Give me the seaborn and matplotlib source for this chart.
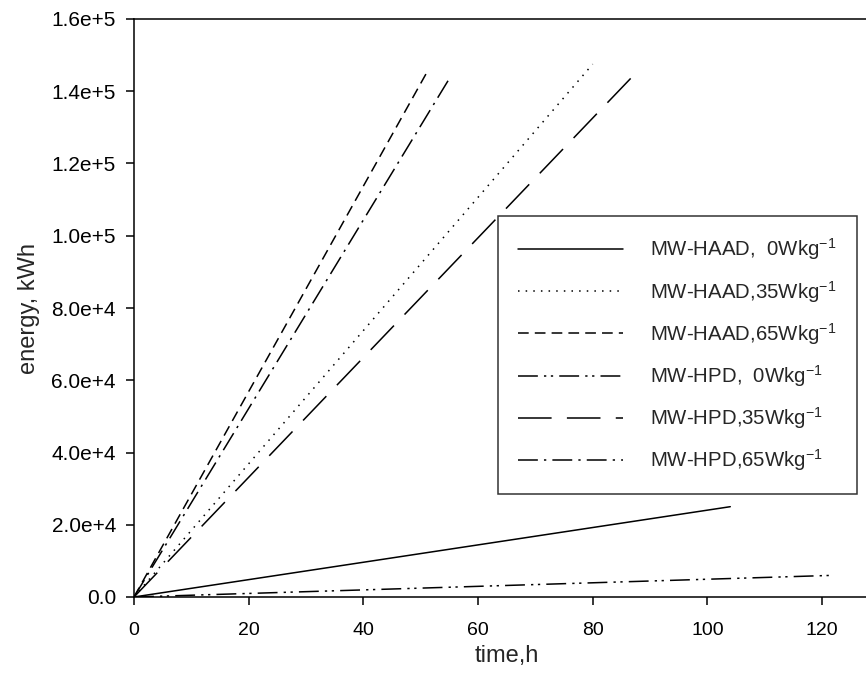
import matplotlib
matplotlib.use("Agg")
import matplotlib.pyplot as plt
import seaborn as sns
import pandas as pd

# ---- data ----
labels = ["MW-HAAD,  0Wkg$^{-1}$", "MW-HAAD,35Wkg$^{-1}$", "MW-HAAD,65Wkg$^{-1}$",
          "MW-HPD,  0Wkg$^{-1}$", "MW-HPD,35Wkg$^{-1}$", "MW-HPD,65Wkg$^{-1}$"]
x_start = [0, 0, 0, 0, 0, 0]
y_start = [0, 0, 0, 0, 0, 0]
x_end = [104, 80, 51, 122, 87.5, 55]
y_end = [25000, 147500, 145000, 6000, 145000, 143500]
yticks = [0, 20000, 40000, 60000, 80000, 100000, 120000, 140000, 160000]
ytick_labels = ["0.0", "2.0e+4", "4.0e+4", "6.0e+4", "8.0e+4", "1.0e+5", "1.2e+5", "1.4e+5", "1.6e+5"]
xticks = [0, 20, 40, 60, 80, 100, 120]

sns.set_theme(style="ticks")
plt.rcParams['font.family'] = ['Liberation Sans', 'DejaVu Sans']
plt.rcParams['mathtext.fontset'] = 'custom'
plt.rcParams['mathtext.rm'] = 'Liberation Sans'
plt.rcParams['mathtext.it'] = 'Liberation Sans'
plt.rcParams['mathtext.default'] = 'regular'

styles = ['-', (0, (1, 4)), (0, (7, 4)), (0, (13, 4, 1.5, 3, 1.5, 4)), (0, (22, 10)), (0, (13, 4, 1.5, 4))]

W, H = 866, 692
fig = plt.figure(figsize=(W / 100, H / 100), dpi=100)
px_per_unit = (822 - 134) / 120.0
xmax = 130
ax = fig.add_axes([134 / W, 1 - 597 / H, xmax * px_per_unit / W, (597 - 19) / H])

for i in range(len(labels)):
    df = pd.DataFrame({"x": [x_start[i], x_end[i]], "y": [y_start[i], y_end[i]]})
    sns.lineplot(data=df, x="x", y="y", ax=ax, color="black", linewidth=1.1,
                 linestyle=styles[i], label=labels[i])

ax.set_xlim(0, xmax)
ax.set_ylim(0, 160000)
ax.set_yticks(yticks)
ax.set_yticklabels(ytick_labels, fontsize=15)
ax.set_xticks(xticks)
ax.set_xticklabels([str(v) for v in xticks], fontsize=14)
ax.tick_params(direction='out', length=6, width=1.1, color='black', labelcolor='black')
ax.tick_params(axis='y', pad=7)
ax.tick_params(axis='x', pad=12)
for s in ax.spines.values():
    s.set_color('black')
    s.set_linewidth(1.1)
ax.set_xlabel("time,h", fontsize=17, labelpad=4)
ax.set_ylabel("energy, kWh", fontsize=17, labelpad=8)

leg = ax.legend(loc='upper left', bbox_to_anchor=(498 / W, 1 - 216 / H), bbox_transform=fig.transFigure,
                borderaxespad=0, frameon=True, fancybox=False, edgecolor='black', fontsize=14.7,
                handlelength=5.1, handletextpad=1.35, labelspacing=0.8, borderpad=1.0)
leg.get_frame().set_linewidth(1.1)

fig.savefig("out.png", dpi=100, facecolor='white')
